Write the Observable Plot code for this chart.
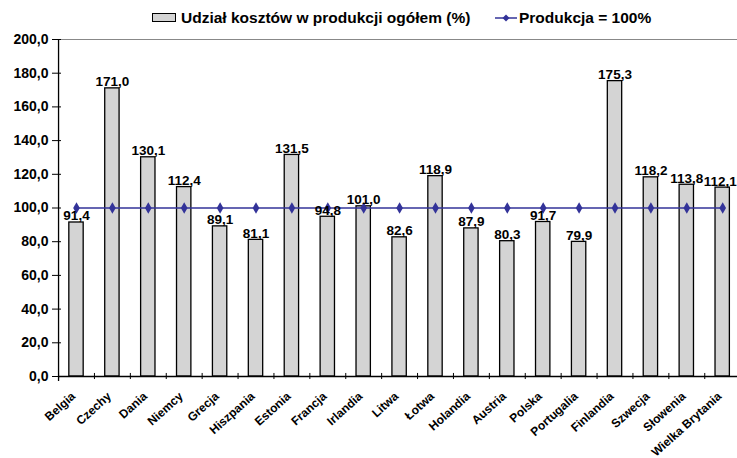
<!DOCTYPE html>
<html>
<head>
<meta charset="utf-8">
<script src="https://cdn.jsdelivr.net/npm/d3@7"></script>
<script src="https://cdn.jsdelivr.net/npm/@observablehq/plot@0.6"></script>
<style>
  html, body { margin: 0; padding: 0; background: #fff; }
  body { width: 737px; height: 458px; overflow: hidden; font-family: "Liberation Sans", Arial, sans-serif; }
  #legend { position: relative; height: 32px; font-weight: bold; font-size: 15.5px; color: #000; }
  #legend .item { position: absolute; top: 8px; display: flex; align-items: center; white-space: nowrap; line-height: 19px; }
  #legend .sw { width: 22px; height: 7px; background: #d4d4d4; border: 1px solid #000; margin-right: 5px; }
  #legend svg { margin-right: 2px; }
  #chart svg { display: block; }
</style>
</head>
<body>
<div id="legend">
  <div class="item" style="left:152px"><span class="sw"></span><span>Udział kosztów w produkcji ogółem (%)</span></div>
  <div class="item" style="left:495px"><svg width="22" height="12"><line x1="0" y1="6" x2="22" y2="6" stroke="#333399" stroke-width="1.5"/><path d="M11,2.5L14.5,6L11,9.5L7.5,6Z" fill="#333399"/></svg><span>Produkcja = 100%</span></div>
</div>
<div id="chart"></div>
<script>
const countries = ["Belgia","Czechy","Dania","Niemcy","Grecja","Hiszpania","Estonia","Francja","Irlandia","Litwa","Łotwa","Holandia","Austria","Polska","Portugalia","Finlandia","Szwecja","Słowenia","Wielka Brytania"];
const costShare = [91.4,171.0,130.1,112.4,89.1,81.1,131.5,94.8,101.0,82.6,118.9,87.9,80.3,91.7,79.9,175.3,118.2,113.8,112.1];
const production = [100,100,100,100,100,100,100,100,100,100,100,100,100,100,100,100,100,100,100];
const yTicks = [0,20,40,60,80,100,120,140,160,180,200];

const data = countries.map((c, i) => ({country: c, share: costShare[i], prod: production[i]}));
const fmt = d => d.toFixed(1).replace(".", ",");
const lastIdx = data.length - 1;

const W = 737, H = 426;
const pad = 0.6;
const step = 35.9;
const firstCenter = 76;
const r0 = firstCenter - step * (1 + pad) / 2;
const r1 = r0 + step * (countries.length + pad);

const labelStyle = {x: "country", y: "share", text: d => fmt(d.share), lineAnchor: "bottom", dy: -2, fontSize: 13.5, fontWeight: "bold", fill: "#000"};

const chart = Plot.plot({
  width: W,
  height: H,
  marginTop: 7,
  marginBottom: 82,
  marginLeft: 58,
  marginRight: 0,
  style: {fontFamily: "'Liberation Sans', Arial, sans-serif", fontWeight: "bold", color: "#000", background: "#fff", overflow: "visible"},
  x: {domain: countries, range: [r0, r1], padding: pad, round: false, label: null},
  y: {domain: [0, 200], label: null},
  marks: [
    Plot.ruleY([200], {stroke: "#888", strokeWidth: 1.2}),
    Plot.barY(data, {x: "country", y: "share", fill: "#d4d4d4", stroke: "#000", strokeWidth: 1.3}),
    Plot.ruleY([0], {stroke: "#000", strokeWidth: 1.3}),
    Plot.ruleX([countries[0]], {x: d => d, y1: -3, y2: 200, dx: -step / 2, stroke: "#000", strokeWidth: 1.3}),
    Plot.ruleX(countries, {x: d => d, y1: -1.8, y2: 1.8, dx: -step / 2, stroke: "#000", strokeWidth: 1}),
    Plot.line(data, {x: "country", y: "prod", stroke: "#333399", strokeWidth: 1.5}),
    Plot.dot(data, {x: "country", y: "prod", symbol: "diamond", r: 3.5, fill: "#333399", stroke: "none"}),
    Plot.text(data.slice(0, lastIdx), labelStyle),
    Plot.text(data.slice(lastIdx), {...labelStyle, dx: -2.5}),
    Plot.axisY({ticks: yTicks, tickFormat: fmt, tickSize: 6, tickPadding: 4, fontSize: 14, fontWeight: "bold", stroke: "#000"}),
    Plot.axisY({ticks: yTicks, tickFormat: null, text: null, tickSize: -3, stroke: "#000"}),
    Plot.axisX({tickSize: 0, tickRotate: -42, tickPadding: 18, dx: -3, fontSize: 12, fontWeight: "bold"})
  ]
});
document.getElementById("chart").appendChild(chart);
</script>
</body>
</html>
